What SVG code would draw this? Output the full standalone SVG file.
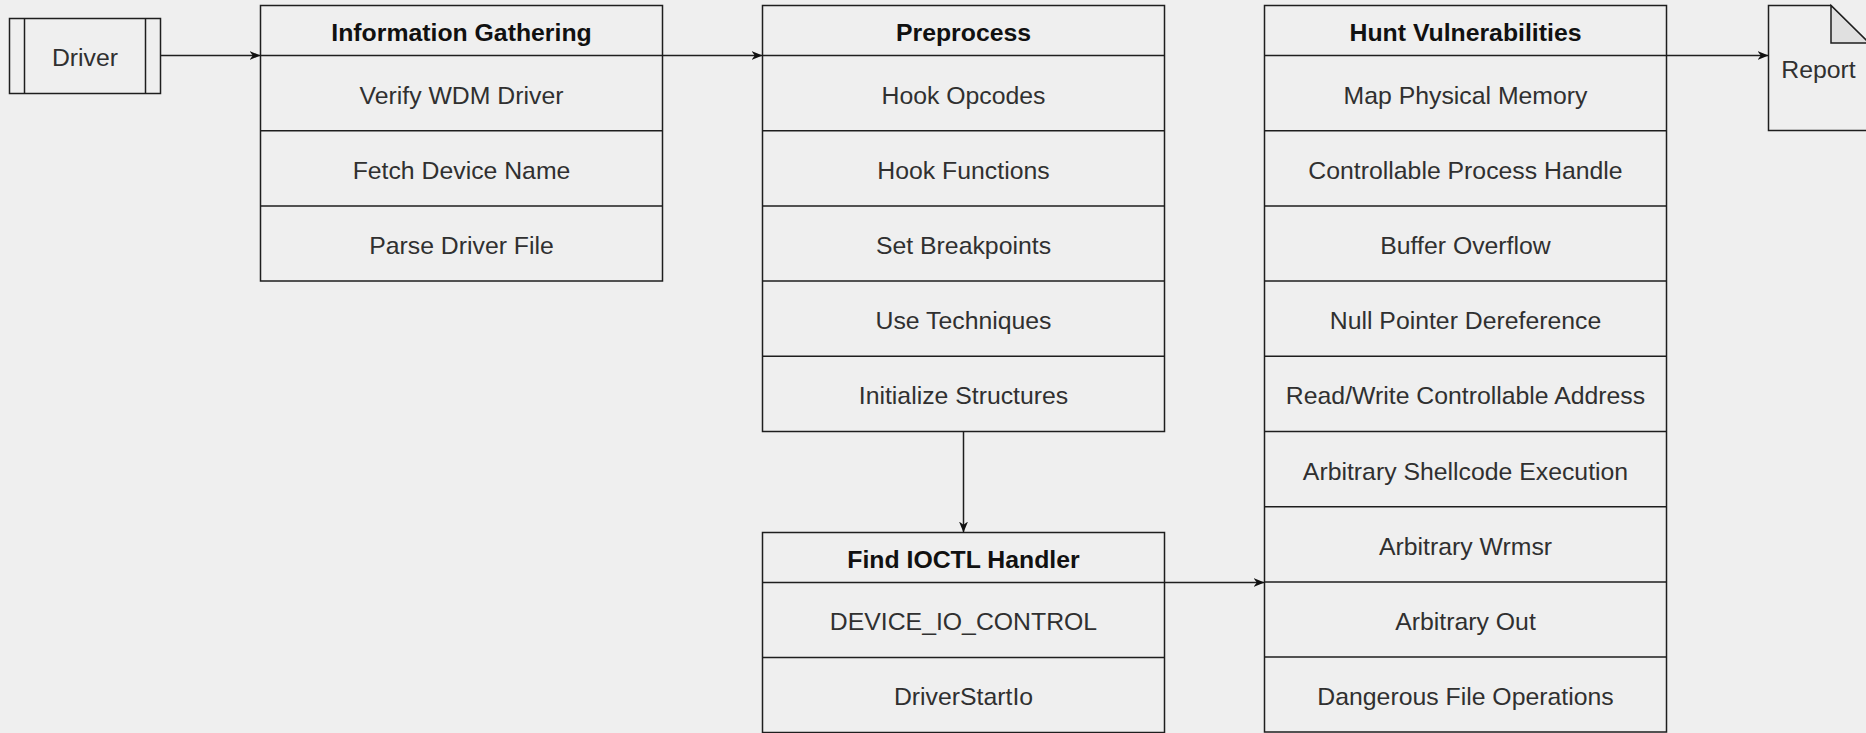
<svg xmlns="http://www.w3.org/2000/svg" width="1866" height="733" viewBox="0 0 1866 733">
<defs>
<style>
.bg{fill:#efefef}
.box{fill:#efefef;stroke:#1e1e1e;stroke-width:1.5}
.ln{stroke:#1e1e1e;stroke-width:1.5;fill:none}
.t{font-family:"Liberation Sans",Arial,sans-serif;font-size:24.8px;fill:#303030;text-anchor:middle}
.h{font-family:"Liberation Sans",Arial,sans-serif;font-size:24.8px;font-weight:bold;fill:#111;text-anchor:middle}
.fold{fill:#e0e0e0;stroke:#1e1e1e;stroke-width:1.5}
</style>
<marker id="arr" viewBox="0 0 11 9" refX="11" refY="4.5" markerWidth="11" markerHeight="9" markerUnits="userSpaceOnUse" orient="auto">
<path d="M0,0 L11,4.5 L0,9 L3.3,4.5 Z" fill="#111"/>
</marker>
</defs>
<rect class="bg" x="0" y="0" width="1866" height="733"/>

<g id="driver">
<rect class="box" x="9.5" y="18.5" width="151" height="75"/>
<line class="ln" x1="24.5" y1="18.5" x2="24.5" y2="93.5"/>
<line class="ln" x1="145.5" y1="18.5" x2="145.5" y2="93.5"/>
<text class="t" x="85" y="66">Driver</text>
</g>

<g id="info-gathering">
<rect class="box" x="260.5" y="5.5" width="402" height="275.5"/>
<line class="ln" x1="260.5" y1="55.5" x2="662.5" y2="55.5"/>
<line class="ln" x1="260.5" y1="130.7" x2="662.5" y2="130.7"/>
<line class="ln" x1="260.5" y1="205.9" x2="662.5" y2="205.9"/>
<text class="h" x="461.5" y="40.5">Information Gathering</text>
<text class="t" x="461.5" y="103.5">Verify WDM Driver</text>
<text class="t" x="461.5" y="178.7">Fetch Device Name</text>
<text class="t" x="461.5" y="253.9">Parse Driver File</text>
</g>

<g id="preprocess">
<rect class="box" x="762.5" y="5.5" width="402" height="426"/>
<line class="ln" x1="762.5" y1="55.5" x2="1164.5" y2="55.5"/>
<line class="ln" x1="762.5" y1="130.7" x2="1164.5" y2="130.7"/>
<line class="ln" x1="762.5" y1="205.9" x2="1164.5" y2="205.9"/>
<line class="ln" x1="762.5" y1="281.1" x2="1164.5" y2="281.1"/>
<line class="ln" x1="762.5" y1="356.3" x2="1164.5" y2="356.3"/>
<text class="h" x="963.5" y="40.5">Preprocess</text>
<text class="t" x="963.5" y="103.5">Hook Opcodes</text>
<text class="t" x="963.5" y="178.7">Hook Functions</text>
<text class="t" x="963.5" y="253.9">Set Breakpoints</text>
<text class="t" x="963.5" y="329.1">Use Techniques</text>
<text class="t" x="963.5" y="404.3">Initialize Structures</text>
</g>

<g id="find-ioctl">
<rect class="box" x="762.5" y="532.5" width="402" height="200"/>
<line class="ln" x1="762.5" y1="582.5" x2="1164.5" y2="582.5"/>
<line class="ln" x1="762.5" y1="657.5" x2="1164.5" y2="657.5"/>
<text class="h" x="963.5" y="567.5">Find IOCTL Handler</text>
<text class="t" x="963.5" y="630">DEVICE_IO_CONTROL</text>
<text class="t" x="963.5" y="705">DriverStartIo</text>
</g>

<g id="hunt">
<rect class="box" x="1264.5" y="5.5" width="402" height="726.5"/>
<line class="ln" x1="1264.5" y1="55.5" x2="1666.5" y2="55.5"/>
<line class="ln" x1="1264.5" y1="130.7" x2="1666.5" y2="130.7"/>
<line class="ln" x1="1264.5" y1="205.9" x2="1666.5" y2="205.9"/>
<line class="ln" x1="1264.5" y1="281.1" x2="1666.5" y2="281.1"/>
<line class="ln" x1="1264.5" y1="356.3" x2="1666.5" y2="356.3"/>
<line class="ln" x1="1264.5" y1="431.5" x2="1666.5" y2="431.5"/>
<line class="ln" x1="1264.5" y1="506.7" x2="1666.5" y2="506.7"/>
<line class="ln" x1="1264.5" y1="582" x2="1666.5" y2="582"/>
<line class="ln" x1="1264.5" y1="657.1" x2="1666.5" y2="657.1"/>
<text class="h" x="1465.5" y="40.5">Hunt Vulnerabilities</text>
<text class="t" x="1465.5" y="103.5">Map Physical Memory</text>
<text class="t" x="1465.5" y="178.7">Controllable Process Handle</text>
<text class="t" x="1465.5" y="253.9">Buffer Overflow</text>
<text class="t" x="1465.5" y="329.1">Null Pointer Dereference</text>
<text class="t" x="1465.5" y="404.3">Read/Write Controllable Address</text>
<text class="t" x="1465.5" y="479.5">Arbitrary Shellcode Execution</text>
<text class="t" x="1465.5" y="554.7">Arbitrary Wrmsr</text>
<text class="t" x="1465.5" y="629.9">Arbitrary Out</text>
<text class="t" x="1465.5" y="705.1">Dangerous File Operations</text>
</g>

<g id="report">
<path class="box" d="M1768.5,5.5 H1831 L1869,43 V130.5 H1768.5 Z"/>
<path class="fold" d="M1831,5.5 V43 H1869 Z"/>
<text class="t" x="1818.5" y="78">Report</text>
</g>

<g id="connectors">
<line class="ln" x1="160.5" y1="55.5" x2="260.5" y2="55.5" marker-end="url(#arr)"/>
<line class="ln" x1="662.5" y1="55.5" x2="762.5" y2="55.5" marker-end="url(#arr)"/>
<line class="ln" x1="963.5" y1="431.5" x2="963.5" y2="532.5" marker-end="url(#arr)"/>
<line class="ln" x1="1164.5" y1="582.5" x2="1264.5" y2="582.5" marker-end="url(#arr)"/>
<line class="ln" x1="1666.5" y1="55.5" x2="1768.5" y2="55.5" marker-end="url(#arr)"/>
</g>
</svg>
